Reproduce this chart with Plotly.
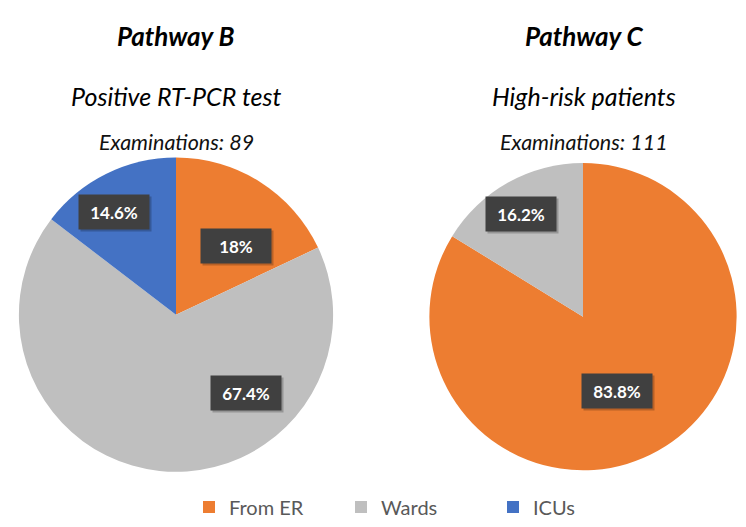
import plotly.graph_objects as go

# ---- data ----
categories = ["From ER", "Wards", "ICUs"]
colors = ["#ED7D31", "#BFBFBF", "#4472C4"]

b_labels = ["From ER", "Wards", "ICUs"]
b_values = [16, 60, 13]          # 89 examinations
b_text = ["18%", "67.4%", "14.6%"]

c_labels = ["From ER", "Wards"]
c_values = [93, 18]              # 111 examinations
c_text = ["83.8%", "16.2%"]

titles = ["Pathway B", "Pathway C"]
subtitles = ["Positive RT-PCR test", "High-risk patients"]
exams = ["Examinations: 89", "Examinations: 111"]

W, H = 746, 527
FONT = "Lato"
cmap = dict(zip(categories, colors))

def px(x):
    return x / W

def py(y):
    return 1 - y / H

fig = go.Figure()
fig.add_trace(go.Pie(
    labels=b_labels, values=b_values, sort=False, direction="clockwise", rotation=0,
    marker=dict(colors=[cmap[l] for l in b_labels], line=dict(width=0)),
    textinfo="none", hoverinfo="skip",
    domain=dict(x=[px(18), px(334)], y=[py(474.5), py(158.5)]),
    showlegend=True,
))
fig.add_trace(go.Pie(
    labels=c_labels, values=c_values, sort=False, direction="clockwise", rotation=0,
    marker=dict(colors=[cmap[l] for l in c_labels], line=dict(width=0)),
    textinfo="none", hoverinfo="skip",
    domain=dict(x=[px(429), px(737)], y=[py(473), py(164)]),
    showlegend=True,
))

ann = []
centers_x = [176, 584]
for i in range(2):
    ann.append(dict(x=px(centers_x[i]), y=py(36), text=f"<b><i>{titles[i]}</i></b>",
                    font=dict(family=FONT, size=26, color="#000000")))
    ann.append(dict(x=px(centers_x[i]), y=py(97), text=f"<i>{subtitles[i]}</i>",
                    font=dict(family=FONT, size=25, color="#000000")))
    ann.append(dict(x=px(centers_x[i]), y=py(143), text=f"<i>{exams[i]}</i>",
                    font=dict(family=FONT, size=21.5, color="#111111")))

# data label boxes
label_pos = [(236, 247), (246, 395), (114, 213), (617, 393), (520.5, 215.5)]
label_txt = b_text + c_text
for (lx, ly), t in zip(label_pos, label_txt):
    ann.append(dict(x=px(lx + 2), y=py(ly + 2), text="", width=70, height=34,
                    bgcolor="rgba(0,0,0,0.22)", borderpad=0))
    ann.append(dict(x=px(lx), y=py(ly), text=f"<b>{t}</b>", width=70, height=34,
                    bgcolor="#404040", borderpad=0,
                    font=dict(family=FONT, size=17, color="#FFFFFF")))

for a in ann:
    a.update(xref="paper", yref="paper", showarrow=False, xanchor="center", yanchor="middle")

fig.update_layout(
    width=W, height=H,
    margin=dict(l=0, r=0, t=0, b=0),
    paper_bgcolor="white", plot_bgcolor="white",
    annotations=ann,
    legend=dict(orientation="h", x=px(189), xanchor="left", y=py(510), yanchor="middle",
                entrywidth=107, entrywidthmode="pixels",
                font=dict(family=FONT, size=20, color="#595959"),
                itemclick=False, itemdoubleclick=False, traceorder="normal"),
    hovermode=False,
)

fig.write_html("out.html", config={"displayModeBar": False},
               post_script="document.body.style.margin='0';document.body.style.padding='0';")
